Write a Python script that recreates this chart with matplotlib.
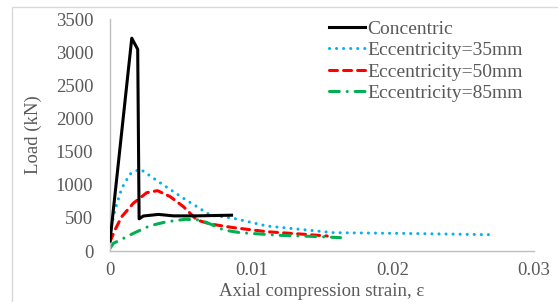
import matplotlib
matplotlib.use("Agg")
import matplotlib.pyplot as plt
from matplotlib.lines import Line2D

# ---- data ----
conc_x = [0.0, 0.00154, 0.00196, 0.00206, 0.00236, 0.00343, 0.0045, 0.0061, 0.0086]
conc_y = [150, 3210, 3043, 485, 528, 552, 530, 530, 540]

e35_x = [0.0, 0.00035, 0.00083, 0.00142, 0.00213, 0.00343, 0.0052, 0.00709, 0.00875, 0.0111, 0.01584, 0.02057, 0.02695]
e35_y = [270, 620, 946, 1162, 1237, 1046, 795, 543, 493, 377, 276, 266, 246]

e50_x = [0.0, 0.00035, 0.00083, 0.00165, 0.0026, 0.00336, 0.00426, 0.0052, 0.00615, 0.0071, 0.00875, 0.0111, 0.01348, 0.01537]
e50_y = [140, 317, 518, 720, 880, 910, 820, 668, 468, 407, 352, 291, 256, 226]

e85_x = [0.0, 0.00024, 0.00083, 0.00165, 0.00284, 0.00402, 0.00532, 0.00638, 0.0071, 0.00804, 0.00922, 0.01064, 0.01206, 0.01348, 0.0149, 0.01631]
e85_y = [40, 116, 177, 266, 382, 442, 478, 468, 407, 317, 276, 256, 236, 226, 216, 201]

labels = ["Concentric", "Eccentricity=35mm", "Eccentricity=50mm", "Eccentricity=85mm"]
x_ticks = [0, 0.01, 0.02, 0.03]
x_ticklabels = ["0", "0.01", "0.02", "0.03"]
y_ticks = [0, 500, 1000, 1500, 2000, 2500, 3000, 3500]

plt.rcParams['font.family'] = ['Liberation Serif', 'DejaVu Serif']
txt = '#595959'

fig = plt.figure(figsize=(5.58, 3.02), dpi=100)
ax = fig.add_axes([110/558, 1-251/302, 424/558, (251-19)/302])

lw = 2.2
ax.plot(conc_x, conc_y, color='black', lw=lw, solid_joinstyle='round', label=labels[0], zorder=5)
ax.plot(e35_x, e35_y, color='#00b0f0', lw=lw, linestyle=(0, (0.01, 2.3)), dash_capstyle='round', label=labels[1])
ax.plot(e50_x, e50_y, color='#ff0000', lw=lw, linestyle=(0, (2.6, 2.0)), dash_capstyle='round', label=labels[2])
ax.plot(e85_x, e85_y, color='#00b050', lw=lw, linestyle=(0, (3.2, 2.6, 0.01, 2.6)), dash_capstyle='round', label=labels[3])

ax.set_xlim(0, 0.03)
ax.set_ylim(0, 3500)
ax.set_xticks(x_ticks)
ax.set_xticklabels(x_ticklabels)
ax.set_yticks(y_ticks)
ax.tick_params(length=0, labelsize=13.5, colors=txt, pad=12)
ax.tick_params(axis='x', pad=8)
for s in ['top', 'right']:
    ax.spines[s].set_visible(False)
for s in ['left', 'bottom']:
    ax.spines[s].set_color('#bfbfbf')
    ax.spines[s].set_linewidth(1)

ax.set_xlabel("Axial compression strain, ε", fontsize=13.5, color=txt, labelpad=3)
ax.set_ylabel("Load (kN)", fontsize=13.5, color=txt, labelpad=10)

leg = ax.legend(loc='upper left', bbox_to_anchor=(329/558, 1-20/302), bbox_transform=fig.transFigure,
                frameon=False, fontsize=14, handlelength=1.85, handletextpad=0.12,
                labelspacing=0.2, borderpad=0, borderaxespad=0)
for t in leg.get_texts():
    t.set_color(txt)

# figure frame lines (top and left)
fig.add_artist(Line2D([12/558, 12/558, 1], [0, 1-7/302, 1-7/302], transform=fig.transFigure,
                      color='#d9d9d9', lw=1))

fig.savefig("out.png", dpi=100)
